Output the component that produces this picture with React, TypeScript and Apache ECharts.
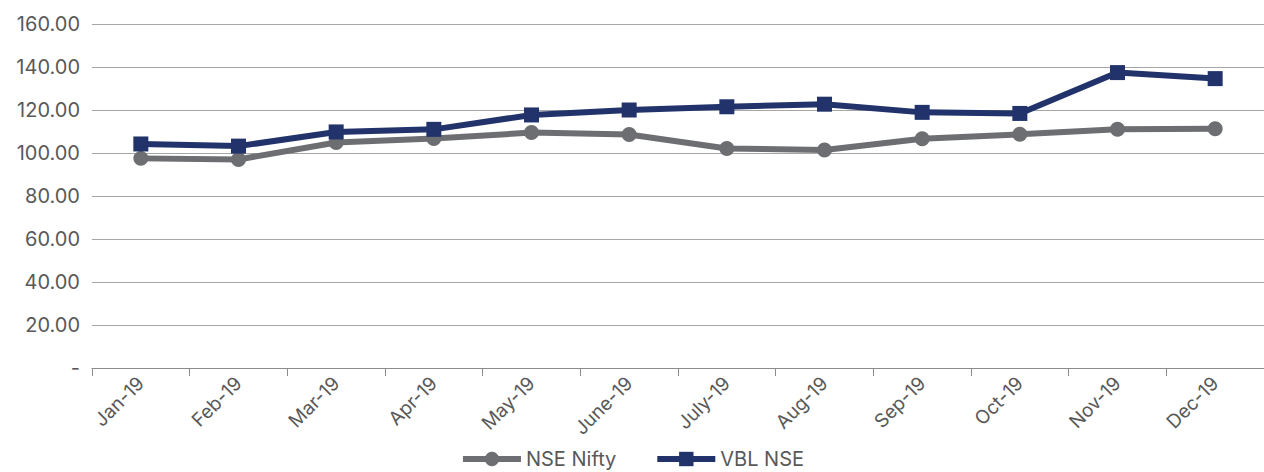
import React, { useEffect, useRef } from "react";
import * as echarts from "echarts";

const categories = ["Jan-19", "Feb-19", "Mar-19", "Apr-19", "May-19", "June-19", "July-19", "Aug-19", "Sep-19", "Oct-19", "Nov-19", "Dec-19"];
const nseNifty = [97.5, 97.0, 104.9, 106.7, 109.5, 108.6, 102.1, 101.4, 106.6, 108.7, 111.0, 111.3];
const vblNse = [104.2, 103.2, 109.8, 111.0, 117.7, 120.0, 121.5, 122.7, 118.9, 118.4, 137.4, 134.6];

export default function App() {
  const ref = useRef<HTMLDivElement>(null);
  useEffect(() => {
    const chart = echarts.init(ref.current!, null, { renderer: "svg" });
    const font = "Inter, 'Noto Sans', sans-serif";
    chart.setOption({
      animation: false,
      backgroundColor: "#ffffff",
      grid: { left: 92, right: -8, top: 24, bottom: 104, containLabel: false },
      legend: {
        bottom: -2,
        left: "center",
        itemWidth: 58,
        itemHeight: 18,
        itemGap: 38,
        lineStyle: { width: 6 },
        textStyle: { fontFamily: font, fontSize: 20, color: "#595959" },
        data: ["NSE Nifty", "VBL NSE"],
      },
      xAxis: {
        type: "category",
        data: categories,
        boundaryGap: true,
        axisLine: { lineStyle: { color: "#8c8c8c", width: 1 } },
        axisTick: { show: true, length: 8, lineStyle: { color: "#8c8c8c" } },
        axisLabel: { rotate: 45, fontFamily: font, fontSize: 19, color: "#595959", margin: 12 },
      },
      yAxis: {
        type: "value",
        min: 0,
        max: 160,
        interval: 20,
        axisLine: { show: false },
        axisTick: { show: false },
        splitLine: { lineStyle: { color: "#a6a6a6", width: 1 } },
        axisLabel: {
          fontFamily: font,
          fontSize: 20,
          color: "#595959",
          margin: 12,
          formatter: (v: number) => (v === 0 ? "-" : v.toFixed(2)),
        },
      },
      series: [
        {
          name: "NSE Nifty",
          type: "line",
          data: nseNifty,
          symbol: "circle",
          symbolSize: 15,
          lineStyle: { color: "#6d6e71", width: 6 },
          itemStyle: { color: "#6d6e71" },
          z: 2,
        },
        {
          name: "VBL NSE",
          type: "line",
          data: vblNse,
          symbol: "rect",
          symbolSize: 15,
          lineStyle: { color: "#21336a", width: 6 },
          itemStyle: { color: "#21336a" },
          z: 3,
        },
      ],
    });
    return () => chart.dispose();
  }, []);
  return <div ref={ref} style={{ position: "absolute", left: 0, top: 0, width: 1264, height: 472 }} />;
}
